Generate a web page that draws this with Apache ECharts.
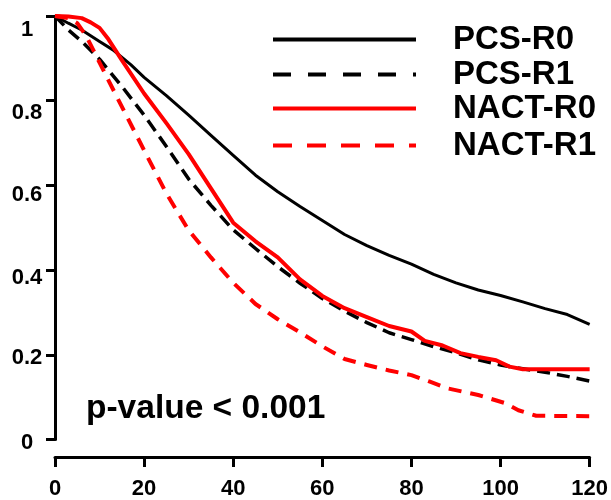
<!DOCTYPE html>
<html>
<head>
<meta charset="utf-8">
<script src="https://cdn.jsdelivr.net/npm/echarts@6/dist/echarts.min.js"></script>
<style>html,body{margin:0;padding:0;background:#fff}#c{width:611px;height:500px}</style>
</head>
<body>
<div id="c"></div>
<script>
const seriesNames = ['PCS-R0', 'PCS-R1', 'NACT-R0', 'NACT-R1'];
const xTicks = [0, 20, 40, 60, 80, 100, 120];
const yTicks = [0, 0.2, 0.4, 0.6, 0.8, 1];
const yTickLabels = ['0', '0.2', '0.4', '0.6', '0.8', '1'];
const pValueText = 'p-value < 0.001';

const pcsR0Time = [0,3,6,10,13,17,20,25,30,35,40,45,50,55,60,65,70,75,80,85,90,95,100,105,110,115,120];
const pcsR0Surv = [1,0.983,0.967,0.94,0.92,0.885,0.855,0.812,0.766,0.718,0.671,0.624,0.585,0.55,0.517,0.484,0.458,0.435,0.414,0.39,0.37,0.353,0.34,0.325,0.309,0.295,0.272];

const pcsR1Time = [0,3,6,10,15,20,25,30,35,40,45,50,55,60,65,70,75,80,85,90,95,100,105,110,115,120];
const pcsR1Surv = [1,0.967,0.94,0.898,0.834,0.766,0.692,0.615,0.553,0.495,0.451,0.408,0.369,0.333,0.303,0.276,0.252,0.236,0.219,0.205,0.188,0.176,0.167,0.159,0.149,0.138];

const nactR0Time = [0,3,6,8,10,12,15,20,25,30,35,40,45,50,55,60,65,70,75,80,83,87,91,95,99,102,105,120];
const nactR0Surv = [1,0.999,0.995,0.985,0.972,0.945,0.896,0.817,0.747,0.674,0.593,0.512,0.468,0.43,0.378,0.339,0.31,0.289,0.268,0.255,0.233,0.222,0.204,0.195,0.187,0.172,0.166,0.166];

const nactR1Time = [0,3,5,7,10,12,15,20,25,30,35,40,45,50,55,60,65,70,75,80,84,88,95,101,104,108,120];
const nactR1Surv = [1,0.995,0.983,0.953,0.89,0.848,0.786,0.683,0.581,0.494,0.43,0.37,0.32,0.284,0.253,0.22,0.19,0.176,0.163,0.152,0.137,0.121,0.105,0.086,0.069,0.056,0.055];

function zip(t, s) { return t.map((v, i) => [v, s[i]]); }

const FONT = '"Liberation Sans", Arial, sans-serif';
const colors = ['#000000', '#000000', '#ff0000', '#ff0000'];
const widths = [3, 3.5, 4, 4];
const dashes = ['solid', [13, 7], 'solid', [13, 9]];
const legendDashes = ['solid', [18, 17], 'solid', [19, 15]];
const legendTops = [23, 58, 92, 129];
// downward nudge (px) of each y tick label, as in the reference scan
const yLabelNudge = [3, 3, 8, 10, 12, 14];
const seriesData = [zip(pcsR0Time, pcsR0Surv), zip(pcsR1Time, pcsR1Surv), zip(nactR0Time, nactR0Surv), zip(nactR1Time, nactR1Surv)];

const yRich = {};
yTicks.forEach((t, i) => {
  yRich['s' + i] = { padding: [2 * yLabelNudge[i], 0, 0, 0], fontSize: 22, fontWeight: 'bold', color: '#000', fontFamily: FONT, align: 'center' };
});

const chart = echarts.init(document.getElementById('c'), null, { renderer: 'canvas' });
chart.setOption({
  animation: false,
  backgroundColor: '#fff',
  grid: { left: 55, right: 20, top: 16, bottom: 58.5 },
  xAxis: {
    type: 'value', min: xTicks[0], max: xTicks[xTicks.length - 1], interval: xTicks[1] - xTicks[0],
    offset: 17.5,
    axisLine: { onZero: false, lineStyle: { color: '#000', width: 3 } },
    axisTick: { length: 10, lineStyle: { color: '#000', width: 3 } },
    axisLabel: { margin: 21, fontSize: 22, fontWeight: 'bold', color: '#000', fontFamily: FONT },
    splitLine: { show: false }
  },
  yAxis: {
    type: 'value', min: yTicks[0], max: yTicks[yTicks.length - 1], interval: yTicks[1] - yTicks[0],
    axisLine: { show: true, lineStyle: { color: '#000', width: 3 } },
    axisTick: { show: true, length: 9, lineStyle: { color: '#000', width: 3 } },
    axisLabel: {
      margin: 28, align: 'center', fontSize: 22, fontWeight: 'bold', color: '#000', fontFamily: FONT,
      rich: yRich,
      formatter: function (v) {
        for (let i = 0; i < yTicks.length; i++) if (Math.abs(yTicks[i] - v) < 1e-9) return '{s' + i + '|' + yTickLabels[i] + '}';
        return '';
      }
    },
    splitLine: { show: false }
  },
  legend: seriesNames.map((name, i) => ({
    data: [name], orient: 'vertical', left: 271, top: legendTops[i], padding: 0,
    itemWidth: 143, itemHeight: 20, selectedMode: false,
    itemStyle: { opacity: 0 },
    lineStyle: { width: 4, type: legendDashes[i], opacity: 1 },
    textStyle: { fontSize: 33, fontWeight: 'bold', color: '#000', fontFamily: FONT, lineHeight: 33, padding: [0, 0, 0, 32] }
  })),
  graphic: [{
    type: 'text', x: 86, y: 409,
    style: { text: pValueText, fontSize: 33.5, fontWeight: 'bold', fontFamily: FONT, fill: '#000', align: 'left', verticalAlign: 'middle' }
  }],
  series: seriesNames.map((name, i) => ({
    name: name, type: 'line', data: seriesData[i], symbol: 'none', showSymbol: false, clip: false,
    lineStyle: { color: colors[i], width: widths[i], type: dashes[i], cap: 'butt', join: 'round' },
    itemStyle: { color: colors[i] },
    z: 2 + i
  }))
});
</script>
</body>
</html>
